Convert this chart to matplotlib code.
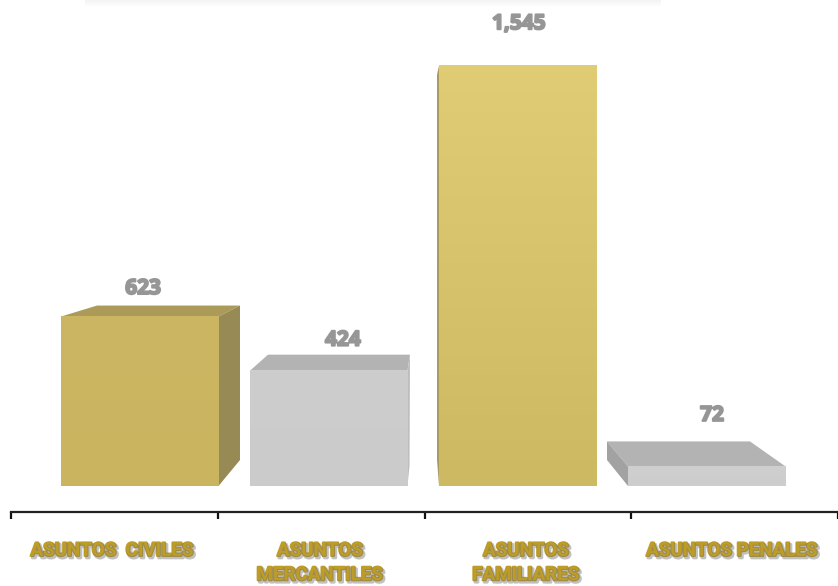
import numpy as np
import matplotlib
matplotlib.use("Agg")
import matplotlib.pyplot as plt
import matplotlib.patheffects as pe
from matplotlib.colors import LinearSegmentedColormap

categories = ["ASUNTOS  CIVILES", "ASUNTOS\nMERCANTILES", "ASUNTOS\nFAMILIARES", "ASUNTOS PENALES"]
values = [623, 424, 1545, 72]
value_labels = ["623", "424", "1,545", "72"]

W, H = 838, 586
AX_L, AX_R, AX_B = 11, 838, 512
BASE = 486                 # pixel row of value 0
PX_PER_UNIT = 0.272
CAT_PX = (AX_R - AX_L) / 4

fig = plt.figure(figsize=(W / 100, H / 100), dpi=100, facecolor="white")
ax = fig.add_axes([AX_L / W, (H - AX_B) / H, (AX_R - AX_L) / W, AX_B / H])
xlim = (0, 4)
ylim = (-(AX_B - BASE) / PX_PER_UNIT, BASE / PX_PER_UNIT)


def X(px):
    return (px - AX_L) / CAT_PX


def Dy(px):
    return px / PX_PER_UNIT


# layout of the perspective view, in pixels
left_px = [61, 250, 439, 628]
bar_w_px = 157.5
label_x_px = [143, 343, 519, 712]
label_gap_px = [28, 30.5, 42, 51]
front_cols = [("#CDB663", "#CBB460"), ("#CDCDCD", "#CBCBCB"), ("#E1CC76", "#CEB963"), ("#CFCFCF", "#CDCDCD")]
GOLD_TOP, GOLD_SIDE, GREY_TOP, GREY_SIDE = "#AC9A58", "#978A55", "#B3B3B3", "#A2A2A2"

# faint shadow band at the top edge of the picture
grad = np.linspace(0, 1, 12)[:, None]
cm = LinearSegmentedColormap.from_list("band", ["#F3F3F3", "#FFFFFF"])
ax.imshow(grad, extent=(X(85), X(660), Dy(BASE - 7), Dy(BASE)), cmap=cm, aspect="auto", zorder=0)

for i, v in enumerate(values):
    l, r = left_px[i], left_px[i] + bar_w_px
    xl, xr = X(l), X(r)
    if i == 0:
        ax.fill([xl, xr, X(240), X(97)], [v, v, v + Dy(11), v + Dy(11)], color=GOLD_TOP, lw=0, zorder=1)
        ax.fill([xr, X(240), X(240), xr], [v, v + Dy(11), Dy(26), 0], color=GOLD_SIDE, lw=0, zorder=1)
    elif i == 1:
        ax.fill([xl, xr, X(410), X(268)], [v, v, v + Dy(16), v + Dy(16)], color=GREY_TOP, lw=0, zorder=1)
        ax.fill([xr, X(410), X(409.5), xr], [v, v + Dy(16), Dy(20), 0], color="#BDBDBD", lw=0, zorder=1)
    elif i == 2:
        ax.fill([xl, X(437), X(437), xl], [v, v - Dy(9), Dy(26), 0], color="#A99A60", lw=0, zorder=1)
    else:
        ax.fill([xl, xr, X(750), X(607)], [v, v, v + Dy(25), v + Dy(25)], color=GREY_TOP, lw=0, zorder=1)
        ax.fill([X(607), xl, xl, X(607)], [v + Dy(25), v, 0, Dy(26)], color=GREY_SIDE, lw=0, zorder=1)
    bar = ax.bar(X(l + bar_w_px / 2), v, width=bar_w_px / CAT_PX, color=front_cols[i][1], lw=0, zorder=2)[0]
    cm = LinearSegmentedColormap.from_list(f"f{i}", list(front_cols[i]))
    ax.imshow(np.linspace(0, 1, 64)[:, None], extent=(xl, xr, 0, v), cmap=cm, aspect="auto", zorder=3)
    ax.text(X(label_x_px[i]), v + Dy(label_gap_px[i]), value_labels[i], ha="center", va="center",
            fontsize=15, fontweight="bold", family="Open Sans", color="#969696", zorder=4,
            path_effects=[pe.withStroke(linewidth=1.4, foreground="#969696")])

ax.set_xlim(*xlim)
ax.set_ylim(*ylim)
ax.patch.set_alpha(0)
for s in ("top", "left", "right"):
    ax.spines[s].set_visible(False)
ax.spines["bottom"].set_linewidth(1.6)
ax.spines["bottom"].set_color("#222222")
ax.set_yticks([])
ax.set_xticks([0, 1, 2, 3, 4], [""] * 5)
ax.tick_params(axis="x", which="major", length=5, width=1.6, color="#111111")
centres_px = [112, 320, 526, 732]
ax.set_xticks([X(p) for p in centres_px], categories, minor=True)
ax.tick_params(axis="x", which="minor", length=0, pad=21.5)
for t in ax.get_xticklabels(minor=True):
    t.set(fontsize=13.5, fontweight="bold", family="Roboto", color="#BD9C27", linespacing=1.45, va="top")
    t.set_path_effects([
        pe.withStroke(linewidth=1.6, foreground="#BD9C27"),
        pe.SimpleLineShadow(offset=(1.2, -1.4), shadow_color="#777777", alpha=0.45, linewidth=2.2),
        pe.Normal(),
    ])

fig.savefig("out.png", dpi=100)
